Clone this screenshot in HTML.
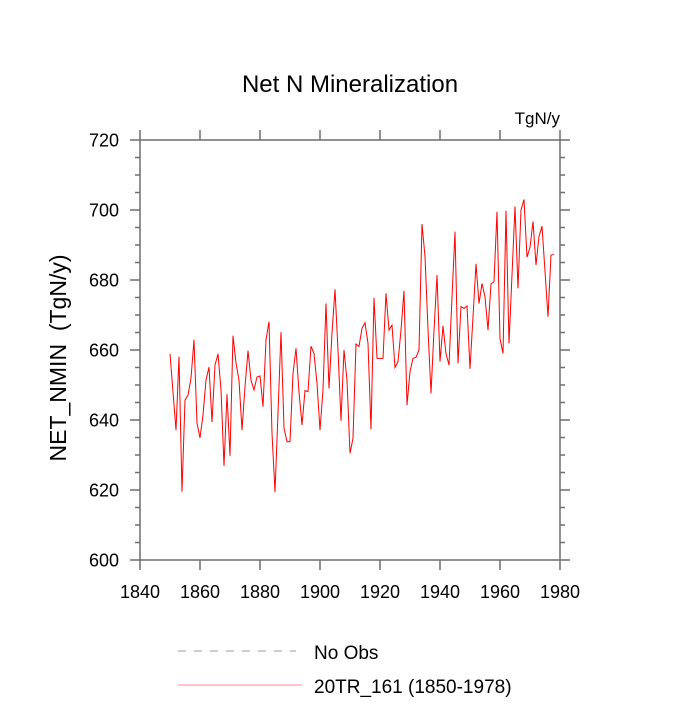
<!DOCTYPE html>
<html><head><meta charset="utf-8"><style>
html,body{margin:0;padding:0;background:#fff;}
svg text{font-family:"Liberation Sans",sans-serif;fill:#000;}
</style></head><body>
<svg id="chart" width="700" height="700" viewBox="0 0 700 700" xmlns="http://www.w3.org/2000/svg">
<text x="350" y="92" font-size="24" text-anchor="middle">Net N Mineralization</text>
<text x="560" y="124" font-size="17" text-anchor="end">TgN/y</text>
<text transform="translate(66,358) rotate(-90)" font-size="23" text-anchor="middle" xml:space="preserve">NET_NMIN&#160; (TgN/y)</text>
<g id="axes"></g>
<polyline id="series" fill="none" stroke="#ff0000" stroke-width="1" stroke-linejoin="miter"/>
<g>
<line x1="178" y1="651" x2="296" y2="651" stroke="#9a9ab8" stroke-width="1" stroke-dasharray="8,8"/>
<text x="314" y="659" font-size="19">No Obs</text>
<line x1="178" y1="685" x2="302" y2="685" stroke="#ff8888" stroke-width="1"/>
<text x="314" y="693" font-size="19">20TR_161 (1850-1978)</text>
</g>
</svg>
<script>
const startYear = 1850;
const values = [658.9,648,637.1,658.1,619.5,645.7,647.1,652,662.9,639.1,634.9,641.4,651.4,655.1,639.4,655.7,658.9,648.6,626.9,647.4,629.8,664.1,656.3,651.4,637.1,649.5,659.8,651.4,648.6,652.3,652.6,643.8,662.9,668.1,636.2,619.4,642,665.1,637.7,633.8,633.8,653.3,660.5,648,
638.6,648.4,648.1,661.1,659,650.5,637.1,648.6,673.3,649,664.8,677.3,660,639.8,660,651.4,630.5,634.8,661.7,661,666.2,667.8,661.9,637.3,674.9,657.6,657.6,657.6,676.2,665.7,667.1,655,656.7,665.7,676.9,644.3,653.8,657.6,657.9,660,696,
686.7,666,647.6,665.5,681.4,656.7,666.9,659,655.7,675,693.8,656.2,672.4,671.9,672.6,654.6,669.5,684.6,673.3,679,675.2,665.7,678.9,679.5,699.5,663.3,659,699.8,661.9,681.4,701,677.6,700,703,686.5,689.3,696.7,684.3,692.4,695.4,682.5,669.5,687.1,687.3];
const xTicks = [1840,1860,1880,1900,1920,1940,1960,1980];
const yTicks = [600,620,640,660,680,700,720];
const xMin=1840,xMax=1980,yMin=600,yMax=720;
const L=140,R=560,T=140,B=560;
function sx(v){return L+(v-xMin)/(xMax-xMin)*(R-L);}
function sy(v){return B-(v-yMin)/(yMax-yMin)*(B-T);}
const NS="http://www.w3.org/2000/svg";
const axes=document.getElementById('axes');
function ln(x1,y1,x2,y2,name){const e=document.createElementNS(NS,'line');
e.setAttribute('x1',x1);e.setAttribute('y1',y1);e.setAttribute('x2',x2);e.setAttribute('y2',y2);
e.setAttribute('stroke','#6e6e6e');e.setAttribute('stroke-width','1.5');


axes.appendChild(e);return e;}
function tx(x,y,s,anchor,name){const e=document.createElementNS(NS,'text');
e.setAttribute('x',x);e.setAttribute('y',y);e.setAttribute('font-size','18');e.setAttribute('text-anchor',anchor);e.textContent=s;


axes.appendChild(e);}
ln(L,T,R,T,'plot-frame-top');ln(L,B,R,B,'plot-frame-bottom');ln(L,T,L,B,'plot-frame-left');ln(R,T,R,B,'plot-frame-right');
xTicks.forEach(v=>{const x=sx(v);ln(x,B,x,B+10,'x-tick');ln(x,T,x,T-10,'x-tick-top');tx(x,B+38,String(v),'middle','x-tick-label');});
yTicks.forEach(v=>{const y=sy(v);ln(L,y,L-10,y,'y-tick');ln(R,y,R+10,y,'y-tick-right');tx(L-21,y+6.5,String(v),'end','y-tick-label');});
for(let v=yMin;v<=yMax;v+=5){if(v%20===0)continue;const y=sy(v);ln(L,y,L-5,y,'y-minor-tick');ln(R,y,R+5,y,'y-minor-tick-right');}
const pts=values.map((v,i)=>sx(startYear+i).toFixed(2)+','+sy(v).toFixed(2)).join(' ');
document.getElementById('series').setAttribute('points',pts);
</script>
</body></html>
